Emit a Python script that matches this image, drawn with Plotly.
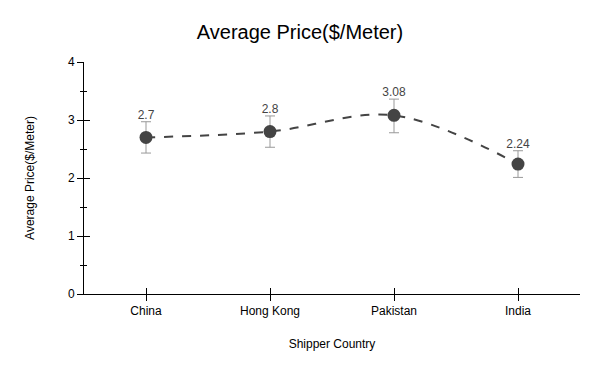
import plotly.graph_objects as go

countries = ["China", "Hong Kong", "Pakistan", "India"]
avg_price = [2.7, 2.8, 3.08, 2.24]
err_plus = [0.27, 0.27, 0.28, 0.23]
err_minus = [0.27, 0.27, 0.30, 0.23]
labels = ["2.7", "2.8", "3.08", "2.24"]

fig = go.Figure()
fig.add_trace(go.Scatter(
    x=countries, y=avg_price,
    mode="lines+markers",
    line=dict(color="#444444", width=2, dash="dash", shape="spline", smoothing=1),
    marker=dict(color="#444444", size=13),
    error_y=dict(type="data", symmetric=False, array=err_plus, arrayminus=err_minus,
                 color="#999999", thickness=1, width=5),
    showlegend=False, hoverinfo="skip",
))
fig.add_trace(go.Scatter(
    x=countries, y=[v + p for v, p in zip(avg_price, err_plus)],
    mode="text", text=labels, textposition="top center",
    textfont=dict(family="Liberation Sans, Arial", size=12, color="#444444"),
    showlegend=False, hoverinfo="skip",
))
# invisible trace on overlaying axis for inward half of ticks
fig.add_trace(go.Scatter(x=countries, y=avg_price, xaxis="x2", yaxis="y2",
                         mode="markers", marker=dict(opacity=0), showlegend=False, hoverinfo="skip"))

fig.update_layout(
    width=600, height=371,
    margin=dict(l=84, r=20, t=62, b=77, autoexpand=False),
    paper_bgcolor="white", plot_bgcolor="white",
    font=dict(family="Liberation Sans, Arial", size=12, color="#000000"),
    title=dict(text="Average Price($/Meter)", x=0.5, xanchor="center", y=0.914, yanchor="middle",
               yref="container", font=dict(size=20, color="#000000")),
    xaxis=dict(range=[-0.5, 3.5], showline=True, linecolor="#000000", linewidth=1, automargin=False,
               ticks="outside", ticklen=6, tickcolor="#000000", showgrid=False, zeroline=False,
               title=dict(text="Shipper Country", font=dict(size=12), standoff=22),
               tickfont=dict(size=12, color="#000000")),
    yaxis=dict(range=[0, 4], showline=True, linecolor="#000000", linewidth=1, automargin=False,
               ticks="outside", ticklen=6, tickcolor="#000000", dtick=1,
               minor=dict(dtick=0.5, ticks="outside", ticklen=3, tickcolor="#000000"),
               showgrid=False, zeroline=False,
               title=dict(text="Average Price($/Meter)", font=dict(size=12), standoff=30),
               tickfont=dict(size=12, color="#000000")),
    xaxis2=dict(range=[-0.5, 3.5], overlaying="x", ticks="inside", ticklen=6, tickcolor="#000000",
                showticklabels=False, showgrid=False, zeroline=False, showline=False, automargin=False,
                tickmode="array", tickvals=[0, 1, 2, 3]),
    yaxis2=dict(range=[0, 4], overlaying="y", ticks="inside", ticklen=6, tickcolor="#000000", dtick=1,
                minor=dict(dtick=0.5, ticks="inside", ticklen=3, tickcolor="#000000"),
                showticklabels=False, showgrid=False, zeroline=False, showline=False, automargin=False),
)
fig.write_html("out.html", config={"displayModeBar": False},
               post_script="document.body.style.margin='0';")
